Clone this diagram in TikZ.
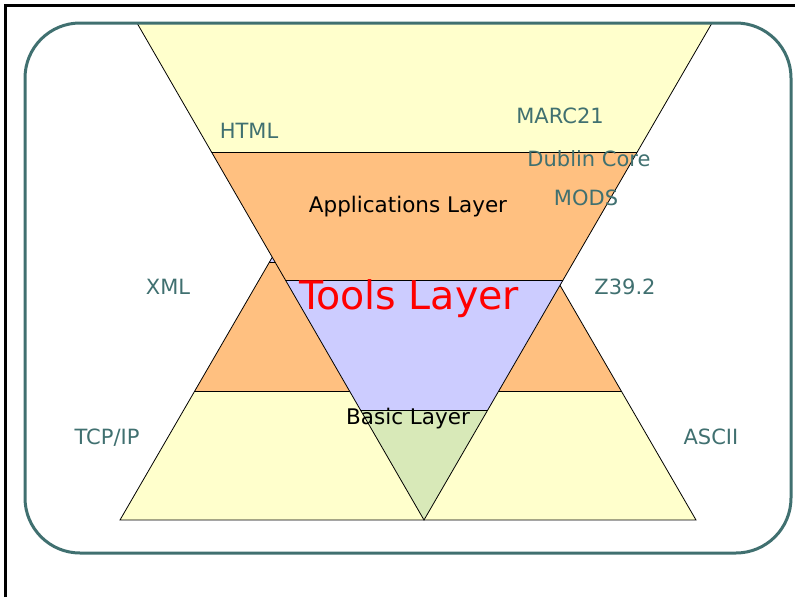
\documentclass[tikz,border=0pt]{standalone}
\usepackage{fontspec}
\setmainfont{DejaVu Sans}
\definecolor{slate}{RGB}{64,112,112}
\definecolor{paleyellow}{RGB}{255,255,204}
\definecolor{peach}{RGB}{255,192,128}
\definecolor{lavender}{RGB}{204,204,255}
\definecolor{sage}{RGB}{216,233,184}
\newcommand{\band}[3]{\fill[#3] (0,#1) rectangle (795,#2); \draw (0,#1) -- (795,#1);}
\newcommand{\term}[4]{\node[term] (#1) at (#2,#3) {#4};}
\newcommand{\layername}[4]{\node[layername] (#1) at (#2,#3) {#4};}
\tikzset{
  term/.style={text=slate, font=\fontsize{21}{21}\selectfont, inner sep=0pt, anchor=base},
  layername/.style={text=black, font=\fontsize{21.5}{21.5}\selectfont, inner sep=0pt, anchor=base}
}

\begin{document}
\begin{tikzpicture}[x=1pt, y=-1pt, line width=0.8pt]
	\useasboundingbox (0,0) rectangle (795,597);
	\draw[line width=2.5pt] (5.5,597) -- (5.5,5.5) -- (795,5.5);

	\begin{scope}
		\clip (120,520) -- (408,23) -- (696,520) -- cycle;
		\band{23}{133}{sage}
		\band{133}{262}{lavender}
		\band{262}{391}{peach}
		\band{391}{520}{paleyellow}
	\end{scope}
	\draw (120,520) -- (408,23) -- (696,520) -- cycle;

	\begin{scope}
		\clip (137,23) -- (712,23) -- (424,520) -- cycle;
		\band{23}{152}{paleyellow}
		\band{152}{280}{peach}
		\band{280}{410}{lavender}
		\band{410}{520}{sage}
	\end{scope}
	\draw (137,23) -- (712,23) -- (424,520) -- cycle;

	\draw[slate, line width=3pt, rounded corners=55pt] (25,23) rectangle (791,553);

	\term{html}{249}{138}{HTML}
	\term{marc}{560}{123}{MARC21}
	\term{dc}{589}{166}{Dublin Core}
	\term{mods}{586}{205}{MODS}
	\term{xml}{168}{294}{XML}
	\term{z}{625}{294}{Z39.2}
	\term{tcp}{107}{444}{TCP/IP}
	\term{ascii}{711}{444}{ASCII}

	\layername{apps}{408}{212}{Applications Layer}
	\layername{basic}{408}{424}{Basic Layer}
	\node[layername, text=red, font=\fontsize{39.5}{39.5}\selectfont] (tools) at (409,309) {Tools Layer};
\end{tikzpicture}
\end{document}
